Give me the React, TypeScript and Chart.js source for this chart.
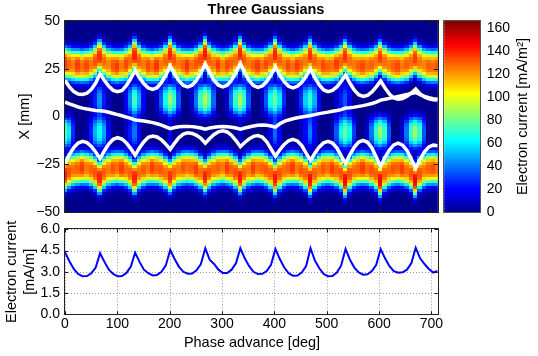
import React, { useEffect, useRef } from "react";
import { Chart, registerables } from "chart.js";
Chart.register(...registerables);

const FONT = "'Liberation Sans', Arial, Helvetica, sans-serif";

// phase sample grid (deg)
const PHASE = [
  0, 8.4, 16.8, 25.1, 33.5, 41.9, 50.3, 58.6,
  67, 75.4, 83.8, 92.1, 100.5, 108.9, 117.3, 125.6,
  134, 142.4, 150.8, 159.1, 167.5, 175.9, 184.3, 192.6,
  201, 209.4, 217.8, 226.1, 234.5, 242.9, 251.3, 259.6,
  268, 276.4, 284.8, 293.1, 301.5, 309.9, 318.3, 326.6,
  335, 343.4, 351.8, 360.1, 368.5, 376.9, 385.3, 393.6,
  402, 410.4, 418.8, 427.1, 435.5, 443.9, 452.3, 460.6,
  469, 477.4, 485.8, 494.1, 502.5, 510.9, 519.3, 527.6,
  536, 544.4, 552.8, 561.1, 569.5, 577.9, 586.3, 594.6,
  603, 611.4, 619.8, 628.1, 636.5, 644.9, 653.3, 661.6,
  670, 678.4, 686.8, 695.1, 703.5, 711.9,
];

// white lines (mm)
const LINE_A = [
  19.0, 15.5, 13.0, 11.8, 11.5, 12.2, 14.2, 17.5,
  22.4, 18.8, 15.8, 13.7, 13.0, 13.6, 16.3, 19.9,
  24.1, 20.3, 17.1, 14.9, 14.2, 15.1, 17.8, 21.7,
  26.4, 22.2, 18.7, 16.3, 15.5, 16.4, 19.0, 22.9,
  27.5, 22.9, 19.0, 16.4, 15.5, 16.4, 19.1, 23.1,
  27.8, 23.0, 18.9, 16.2, 15.2, 16.0, 18.3, 21.8,
  25.9, 21.7, 18.2, 15.8, 15.0, 15.8, 17.9, 21.1,
  24.9, 20.4, 16.5, 13.9, 13.0, 13.7, 15.5, 18.4,
  21.7, 17.4, 13.8, 11.4, 10.5, 11.1, 12.9, 15.5,
  18.6, 14.9, 11.8, 9.7, 9.0, 9.4, 10.6, 12.3,
  14.4, 11.8, 10.2, 9.2, 8.8, 8.6,
];
const LINE_B = [
  7.6, 6.6, 5.8, 5.0, 4.4, 3.9, 3.5, 3.2,
  3.0, 2.7, 2.2, 1.6, 1.0, 0.4, -0.3, -1.0,
  -1.8, -2.1, -2.4, -2.8, -3.2, -3.8, -4.5, -5.4,
  -6.4, -5.8, -5.4, -5.2, -5.2, -5.3, -5.6, -6.0,
  -6.6, -6.0, -5.6, -5.4, -5.3, -5.4, -5.6, -6.0,
  -6.6, -6.0, -5.5, -5.0, -4.6, -4.5, -4.6, -5.0,
  -5.6, -3.8, -2.6, -1.8, -1.2, -0.7, -0.3, 0.1,
  0.5, 1.0, 1.5, 1.9, 2.3, 2.7, 3.1, 3.6,
  4.4, 4.6, 4.9, 5.3, 5.7, 6.2, 6.8, 7.5,
  8.6, 9.0, 9.5, 10.0, 10.5, 11.0, 11.5, 12.0,
  12.6, 11.5, 10.5, 9.8, 9.3, 9.0,
];
const LINE_C = [
  -24.4, -20.0, -16.3, -13.9, -13.0, -13.7, -15.7, -18.6,
  -22.1, -17.9, -14.3, -11.9, -11.1, -11.8, -13.8, -16.8,
  -20.3, -16.4, -13.2, -10.9, -10.2, -10.7, -12.2, -14.5,
  -17.2, -13.9, -11.0, -9.2, -8.5, -8.9, -9.9, -11.4,
  -14.0, -11.5, -9.4, -8.0, -7.5, -8.1, -9.9, -12.6,
  -15.8, -13.6, -11.7, -10.4, -10.0, -10.8, -13.2, -17.0,
  -20.8, -17.4, -14.6, -12.7, -12.0, -12.8, -15.2, -19.2,
  -23.0, -19.2, -15.9, -13.8, -13.0, -13.9, -16.4, -20.6,
  -24.5, -19.9, -16.0, -13.4, -12.5, -13.5, -16.5, -21.3,
  -26.0, -21.4, -17.5, -14.9, -14.0, -15.0, -17.8, -22.4,
  -27.0, -22.4, -18.5, -15.9, -15.0, -15.3,
];

// heatmap column parameters
const UPPER_CENTER = [
  28, 27.5, 27, 26.8, 26.5, 26.8, 27.5, 29,
  31.5, 29, 27.5, 26.8, 26.5, 26.8, 27.5, 29,
  32, 29.2, 27.6, 26.8, 26.5, 26.8, 27.6, 29.3,
  32.5, 29.5, 27.8, 27, 26.7, 27, 27.8, 29.5,
  33, 29.6, 27.8, 27, 26.7, 27, 27.8, 29.5,
  33, 29.5, 27.8, 27, 26.7, 27, 27.6, 29.3,
  32.5, 29.3, 27.6, 26.8, 26.5, 26.8, 27.5, 29.2,
  32, 29, 27.5, 26.8, 26.5, 26.8, 27.5, 29,
  31.5, 29, 27.5, 26.8, 26.5, 26.8, 27.3, 28.8,
  31, 28.8, 27.3, 26.7, 26.4, 26.7, 27.3, 28.7,
  30.5, 28.5, 27.2, 26.6, 26.4, 26.5,
];
const LOWER_CENTER = [
  -30, -28.5, -27.5, -27, -26.5, -26.8, -27.5, -29,
  -31.5, -29, -27.5, -26.8, -26.5, -26.8, -27.5, -29,
  -31.5, -29, -27.5, -26.8, -26.5, -26.8, -27.5, -29,
  -31, -28.8, -27.3, -26.6, -26.3, -26.6, -27.3, -28.8,
  -31, -28.8, -27.3, -26.6, -26.3, -26.6, -27.3, -28.8,
  -31.5, -29, -27.5, -26.8, -26.5, -26.8, -27.5, -29.2,
  -32, -29.3, -27.6, -26.8, -26.5, -26.8, -27.6, -29.3,
  -32.5, -29.5, -27.8, -27, -26.7, -27, -27.8, -29.5,
  -33, -29.6, -27.8, -27, -26.7, -27, -27.8, -29.6,
  -33, -29.6, -27.8, -27, -26.7, -27, -27.8, -29.6,
  -33, -29.5, -27.8, -27, -26.8, -27,
];
const UPPER_AMP = [
  136, 130, 126, 136, 128, 134, 126, 132,
  138, 128, 124, 132, 136, 126, 134, 128,
  140, 130, 126, 134, 128, 137, 126, 130,
  140, 132, 126, 130, 138, 128, 132, 134,
  142, 130, 128, 136, 126, 134, 130, 128,
  140, 132, 126, 130, 136, 128, 134, 130,
  140, 130, 126, 134, 128, 136, 130, 126,
  138, 130, 126, 134, 130, 128, 136, 130,
  138, 128, 126, 130, 134, 128, 130, 126,
  136, 128, 126, 130, 134, 126, 130, 128,
  136, 126, 124, 130, 128, 132,
];
const LOWER_AMP = [
  140, 132, 128, 130, 136, 126, 130, 132,
  140, 130, 126, 132, 128, 136, 128, 130,
  140, 128, 130, 126, 136, 130, 132, 128,
  138, 130, 126, 132, 128, 130, 136, 128,
  140, 132, 128, 130, 126, 136, 130, 132,
  142, 130, 126, 136, 128, 130, 132, 130,
  142, 132, 128, 130, 136, 126, 132, 130,
  144, 130, 126, 132, 128, 136, 130, 132,
  145, 132, 128, 130, 136, 128, 132, 130,
  146, 130, 128, 132, 130, 136, 128, 132,
  145, 132, 126, 130, 132, 128,
];
const UPPER_BLOB = [
  0, 0, 0, 0, 0, 0, 10, 25,
  45, 25, 8, 0, 0, 0, 20, 45,
  72, 50, 20, 0, 0, 8, 35, 65,
  88, 72, 35, 0, 0, 10, 40, 72,
  92, 75, 38, 0, 0, 10, 40, 72,
  90, 72, 35, 0, 0, 8, 35, 65,
  80, 60, 28, 0, 0, 5, 28, 55,
  70, 50, 20, 0, 0, 0, 10, 25,
  35, 18, 0, 0, 0, 0, 0, 0,
  0, 0, 0, 0, 0, 0, 0, 0,
  0, 0, 0, 0, 0, 0,
];
const LOWER_BLOB = [
  75, 60, 28, 0, 0, 5, 25, 50,
  65, 48, 18, 0, 0, 0, 10, 25,
  40, 20, 0, 0, 0, 0, 0, 0,
  18, 0, 0, 0, 0, 0, 0, 0,
  0, 0, 0, 0, 0, 0, 0, 0,
  12, 0, 0, 0, 0, 0, 0, 15,
  38, 18, 0, 0, 0, 0, 8, 22,
  42, 22, 0, 0, 0, 5, 35, 62,
  80, 65, 30, 0, 0, 10, 40, 70,
  88, 72, 35, 0, 0, 10, 40, 72,
  88, 72, 35, 0, 0, 0,
];

// bottom panel: line current (mA/m)
const CURRENT = [
  4.38, 3.75, 3.2, 2.85, 2.68, 2.7, 2.9, 3.3,
  4.31, 3.7, 3.15, 2.85, 2.68, 2.7, 2.92, 3.35,
  4.35, 3.7, 3.15, 2.9, 2.74, 2.78, 3.0, 3.45,
  4.54, 3.9, 3.35, 3.0, 2.86, 2.88, 3.1, 3.55,
  4.66, 3.85, 3.55, 3.15, 2.92, 2.92, 3.15, 3.6,
  4.66, 3.95, 3.4, 3.0, 2.84, 2.86, 3.05, 3.5,
  4.61, 3.9, 3.3, 2.9, 2.72, 2.74, 2.95, 3.4,
  4.66, 3.8, 3.25, 2.85, 2.68, 2.7, 2.95, 3.45,
  4.61, 3.85, 3.3, 2.95, 2.8, 2.82, 3.05, 3.5,
  4.61, 3.95, 3.4, 3.05, 2.94, 2.96, 3.15, 3.6,
  4.7, 3.95, 3.55, 3.2, 2.95, 3.06,
];

const X_TICKS = [0, 100, 200, 300, 400, 500, 600, 700];
const Y_TICKS_TOP = [-50, -25, 0, 25, 50];
const Y_TICKS_BOTTOM = [0, 1.5, 3, 4.5, 6];
const CBAR_TICKS = [0, 20, 40, 60, 80, 100, 120, 140, 160];
const CBAR_MAX = 166;
const X_MAX = 712;

const TITLE = "Three Gaussians";
const Y_LABEL_TOP = "X [mm]";
const CBAR_LABEL = "Electron current [mA/m\u00B2]";
const Y_LABEL_BOTTOM_1 = "Electron current";
const Y_LABEL_BOTTOM_2 = "[mA/m]";
const X_LABEL = "Phase advance [deg]";

const BAND_W = 6.4;
const BLOB_W = 6.3;
const UPPER_BLOB_Y = 9;
const LOWER_BLOB_Y = -8;
const ROWS = 64;

function jet(v: number): string {
  const t = Math.max(0, Math.min(1, v / CBAR_MAX));
  const c = (x: number) => Math.round(255 * Math.max(0, Math.min(1, x)));
  const r = c(Math.min(4 * t - 1.5, -4 * t + 4.5));
  const g = c(Math.min(4 * t - 0.5, -4 * t + 3.5));
  const b = c(Math.min(4 * t + 0.55, -4 * t + 2.5));
  return `rgb(${r},${g},${b})`;
}

function profile(d: number): number {
  const a = Math.abs(d);
  return Math.exp(-0.5 * a * a * a);
}

function cellValue(i: number, y: number): number {
  return (
    UPPER_AMP[i] * profile((y - UPPER_CENTER[i]) / BAND_W) +
    LOWER_AMP[i] * profile((y - LOWER_CENTER[i]) / BAND_W) +
    UPPER_BLOB[i] * profile((y - UPPER_BLOB_Y) / BLOB_W) +
    LOWER_BLOB[i] * profile((y - LOWER_BLOB_Y) / BLOB_W)
  );
}

const heatPlugin = {
  id: "heat",
  beforeDatasetsDraw(chart: any) {
    const { ctx, chartArea: a, scales } = chart;
    const xs = scales.x;
    const ys = scales.y;
    ctx.save();
    ctx.beginPath();
    ctx.rect(a.left, a.top, a.right - a.left, a.bottom - a.top);
    ctx.clip();
    ctx.fillStyle = jet(0);
    ctx.fillRect(a.left, a.top, a.right - a.left, a.bottom - a.top);
    const n = PHASE.length;
    const dy = 100 / ROWS;
    for (let i = 0; i < n; i++) {
      const l = i === 0 ? PHASE[0] - (PHASE[1] - PHASE[0]) / 2 : (PHASE[i - 1] + PHASE[i]) / 2;
      const r = i === n - 1 ? PHASE[i] + (PHASE[i] - PHASE[i - 1]) / 2 : (PHASE[i] + PHASE[i + 1]) / 2;
      const px0 = Math.floor(xs.getPixelForValue(l));
      const px1 = Math.ceil(xs.getPixelForValue(r));
      for (let j = 0; j < ROWS; j++) {
        const v0 = -50 + j * dy;
        const v1 = v0 + dy;
        const val = cellValue(i, (v0 + v1) / 2);
        const py0 = Math.ceil(ys.getPixelForValue(v0));
        const py1 = Math.floor(ys.getPixelForValue(v1));
        ctx.fillStyle = jet(val);
        ctx.fillRect(px0, py1, px1 - px0, py0 - py1);
      }
    }
    ctx.restore();
  },
  afterDatasetsDraw(chart: any) {
    const { ctx, chartArea: a, scales } = chart;
    ctx.save();
    ctx.strokeStyle = "#1a1a1a";
    ctx.lineWidth = 1;
    ctx.beginPath();
    for (const t of X_TICKS) {
      const px = Math.round(scales.x.getPixelForValue(t)) + 0.5;
      ctx.moveTo(px, a.top); ctx.lineTo(px, a.top + 4);
      ctx.moveTo(px, a.bottom); ctx.lineTo(px, a.bottom - 4);
    }
    for (const t of Y_TICKS_TOP) {
      const py = Math.round(scales.y.getPixelForValue(t)) + 0.5;
      ctx.moveTo(a.left, py); ctx.lineTo(a.left + 4, py);
      ctx.moveTo(a.right, py); ctx.lineTo(a.right - 4, py);
    }
    ctx.stroke();
    ctx.strokeStyle = "#222";
    ctx.strokeRect(Math.round(a.left) - 0.5, Math.round(a.top) - 0.5, Math.round(a.right - a.left) + 1, Math.round(a.bottom - a.top) + 1);
    ctx.fillStyle = "#000";
    ctx.font = `bold 14.5px ${FONT}`;
    ctx.textAlign = "center";
    ctx.textBaseline = "middle";
    ctx.fillText(TITLE, 266, 10);
    ctx.font = `14.5px ${FONT}`;
    ctx.translate(25, (a.top + a.bottom) / 2);
    ctx.rotate(-Math.PI / 2);
    ctx.fillText(Y_LABEL_TOP, 0, 0);
    ctx.restore();
  },
};

const cbarPlugin = {
  id: "cbar",
  beforeDatasetsDraw(chart: any) {
    const { ctx, chartArea: a, scales } = chart;
    const ys = scales.y;
    ctx.save();
    const steps = 128;
    for (let k = 0; k < steps; k++) {
      const v0 = (k * CBAR_MAX) / steps;
      const v1 = ((k + 1) * CBAR_MAX) / steps;
      const p0 = ys.getPixelForValue(v0);
      const p1 = ys.getPixelForValue(v1);
      ctx.fillStyle = jet((v0 + v1) / 2);
      ctx.fillRect(a.left, Math.floor(p1), a.right - a.left, Math.ceil(p0) - Math.floor(p1));
    }
    ctx.strokeStyle = "#555";
    ctx.lineWidth = 1;
    ctx.strokeRect(Math.round(a.left) - 0.5, Math.round(a.top) - 0.5, Math.round(a.right - a.left) + 1, Math.round(a.bottom - a.top) + 1);
    ctx.fillStyle = "#000";
    ctx.font = `14.5px ${FONT}`;
    ctx.textAlign = "center";
    ctx.textBaseline = "middle";
    ctx.translate(83, (a.top + a.bottom) / 2);
    ctx.rotate(-Math.PI / 2);
    ctx.fillText(CBAR_LABEL, 0, 0);
    ctx.restore();
  },
};

const bottomPlugin = {
  id: "bottomDeco",
  beforeDatasetsDraw(chart: any) {
    const { ctx, chartArea: a, scales } = chart;
    ctx.save();
    ctx.strokeStyle = "#9a9a9a";
    ctx.lineWidth = 1;
    ctx.setLineDash([1, 2]);
    ctx.beginPath();
    for (const t of X_TICKS) {
      const px = Math.round(scales.x.getPixelForValue(t)) + 0.5;
      ctx.moveTo(px, a.top); ctx.lineTo(px, a.bottom);
    }
    for (const t of Y_TICKS_BOTTOM) {
      const py = Math.round(scales.y.getPixelForValue(t)) + 0.5;
      ctx.moveTo(a.left, py); ctx.lineTo(a.right, py);
    }
    ctx.stroke();
    ctx.restore();
  },
  afterDatasetsDraw(chart: any) {
    const { ctx, chartArea: a, scales } = chart;
    ctx.save();
    ctx.strokeStyle = "#1a1a1a";
    ctx.lineWidth = 1;
    ctx.beginPath();
    for (const t of X_TICKS) {
      const px = Math.round(scales.x.getPixelForValue(t)) + 0.5;
      ctx.moveTo(px, a.top); ctx.lineTo(px, a.top + 3);
      ctx.moveTo(px, a.bottom); ctx.lineTo(px, a.bottom - 3);
    }
    for (const t of Y_TICKS_BOTTOM) {
      const py = Math.round(scales.y.getPixelForValue(t)) + 0.5;
      ctx.moveTo(a.left, py); ctx.lineTo(a.left + 3, py);
      ctx.moveTo(a.right, py); ctx.lineTo(a.right - 3, py);
    }
    ctx.stroke();
    ctx.strokeStyle = "#222";
    ctx.strokeRect(Math.round(a.left) - 0.5, Math.round(a.top) - 0.5, Math.round(a.right - a.left) + 1, Math.round(a.bottom - a.top) + 1);
    ctx.fillStyle = "#000";
    ctx.font = `14.5px ${FONT}`;
    ctx.textAlign = "center";
    ctx.textBaseline = "middle";
    ctx.fillText(X_LABEL, 252, 128);
    const cy = (a.top + a.bottom) / 2;
    ctx.save();
    ctx.translate(12, cy);
    ctx.rotate(-Math.PI / 2);
    ctx.fillText(Y_LABEL_BOTTOM_1, 0, 0);
    ctx.restore();
    ctx.save();
    ctx.translate(30, cy);
    ctx.rotate(-Math.PI / 2);
    ctx.fillText(Y_LABEL_BOTTOM_2, 0, 0);
    ctx.restore();
    ctx.restore();
  },
};

const tickFont = { family: FONT, size: 14 };

export default function App() {
  const topRef = useRef<HTMLCanvasElement>(null);
  const cbRef = useRef<HTMLCanvasElement>(null);
  const botRef = useRef<HTMLCanvasElement>(null);

  useEffect(() => {
    document.body.style.margin = "0";
    const charts: Chart[] = [];
    const lineSet = (arr: number[]) => ({
      data: PHASE.map((p, i) => ({ x: p, y: arr[i] })),
      borderColor: "#ffffff",
      borderWidth: 3.5,
      pointRadius: 0,
      tension: 0,
      fill: false,
    });

    if (topRef.current) {
      charts.push(
        new Chart(topRef.current, {
          type: "line",
          data: { datasets: [lineSet(LINE_A), lineSet(LINE_B), lineSet(LINE_C)] as any },
          options: {
            responsive: false,
            animation: false,
            devicePixelRatio: 1,
            layout: { padding: { left: 0, top: 21, right: 7.3, bottom: 18 } },
            plugins: { legend: { display: false }, tooltip: { enabled: false }, title: { display: false } },
            scales: {
              x: { type: "linear", min: 0, max: X_MAX, display: false },
              y: {
                type: "linear",
                position: "left",
                min: -50,
                max: 50,
                afterBuildTicks: (s: any) => { s.ticks = Y_TICKS_TOP.map((v) => ({ value: v })); },
                afterFit: (s: any) => { s.width = 65; },
                grid: { display: false, drawTicks: false },
                border: { display: false },
                ticks: {
                  padding: 5,
                  color: "#000",
                  font: tickFont,
                  callback: (v: any) => String(v).replace("-", "\u2212"),
                },
              },
            },
          } as any,
          plugins: [heatPlugin],
        })
      );
    }

    if (cbRef.current) {
      charts.push(
        new Chart(cbRef.current, {
          type: "line",
          data: { datasets: [] },
          options: {
            responsive: false,
            animation: false,
            devicePixelRatio: 1,
            layout: { padding: { left: 4.3, top: 21, right: 0, bottom: 18 } },
            plugins: { legend: { display: false }, tooltip: { enabled: false } },
            scales: {
              x: { type: "linear", min: 0, max: 1, display: false },
              y: {
                type: "linear",
                position: "right",
                min: 0,
                max: CBAR_MAX,
                afterBuildTicks: (s: any) => { s.ticks = CBAR_TICKS.map((v) => ({ value: v })); },
                afterFit: (s: any) => { s.width = 57.3; },
                grid: { display: false, drawTicks: false },
                border: { display: false },
                ticks: { padding: 6, color: "#000", font: tickFont },
              },
            },
          } as any,
          plugins: [cbarPlugin],
        })
      );
    }

    if (botRef.current) {
      charts.push(
        new Chart(botRef.current, {
          type: "line",
          data: {
            datasets: [
              {
                data: PHASE.map((p, i) => ({ x: p, y: CURRENT[i] })),
                borderColor: "#0000ff",
                borderWidth: 2,
                pointRadius: 0,
                tension: 0,
                fill: false,
              },
            ] as any,
          },
          options: {
            responsive: false,
            animation: false,
            devicePixelRatio: 1,
            layout: { padding: { left: 0, top: 14.3, right: 12.3, bottom: 0 } },
            plugins: { legend: { display: false }, tooltip: { enabled: false } },
            scales: {
              x: {
                type: "linear",
                position: "bottom",
                min: 0,
                max: X_MAX,
                afterBuildTicks: (s: any) => { s.ticks = X_TICKS.map((v) => ({ value: v })); },
                afterFit: (s: any) => { s.height = 41.7; },
                grid: { display: false, drawTicks: false },
                border: { display: false },
                ticks: { padding: 1.5, color: "#000", font: tickFont, maxRotation: 0, autoSkip: false },
              },
              y: {
                type: "linear",
                position: "left",
                min: 0,
                max: 6,
                afterBuildTicks: (s: any) => { s.ticks = Y_TICKS_BOTTOM.map((v) => ({ value: v })); },
                afterFit: (s: any) => { s.width = 65; },
                grid: { display: false, drawTicks: false },
                border: { display: false },
                ticks: { padding: 5, color: "#000", font: tickFont, callback: (v: any) => Number(v).toFixed(1) },
              },
            },
          } as any,
          plugins: [bottomPlugin],
        })
      );
    }

    return () => charts.forEach((c) => c.destroy());
  }, []);

  return (
    <div style={{ position: "relative", width: 538, height: 356, background: "#fff", overflow: "hidden" }}>
      <canvas ref={topRef} width={445} height={230} style={{ position: "absolute", left: 0, top: 0, width: 445, height: 230 }} />
      <canvas ref={cbRef} width={98} height={230} style={{ position: "absolute", left: 440, top: 0, width: 98, height: 230 }} />
      <canvas ref={botRef} width={450} height={141} style={{ position: "absolute", left: 0, top: 215, width: 450, height: 141 }} />
    </div>
  );
}
